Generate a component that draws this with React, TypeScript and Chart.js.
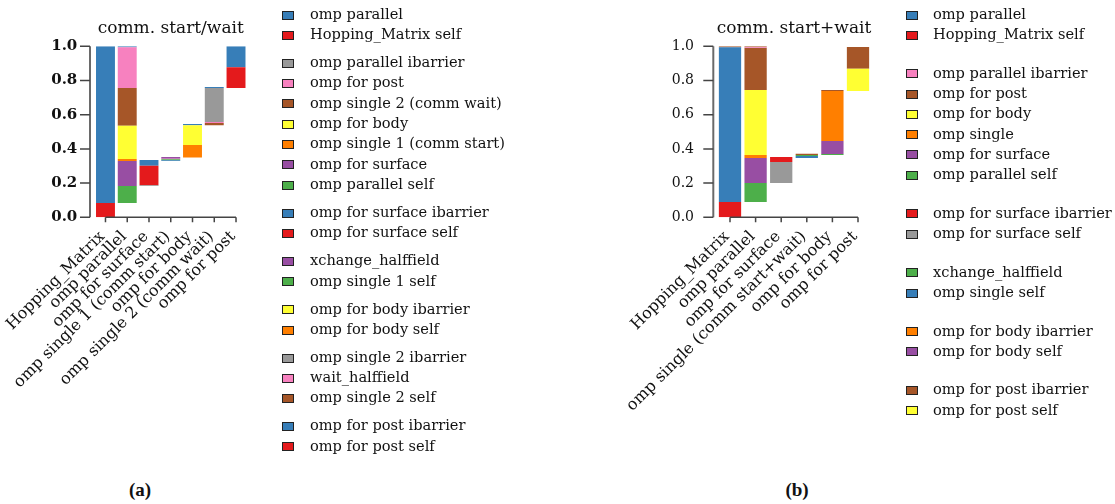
import React, { useEffect, useRef } from "react";
import { Chart, registerables } from "chart.js";

Chart.register(...registerables);

// ---------- palette (style) ----------
const SET1: Record<string, string> = {
  red: "#E41A1C",
  blue: "#377EB8",
  green: "#4DAF4A",
  purple: "#984EA3",
  orange: "#FF7F00",
  yellow: "#FFFF33",
  brown: "#A65628",
  pink: "#F781BF",
  gray: "#999999",
};

// ---------- data: panel (a) ----------
const titleA = "comm. start/wait";
const categoriesA = [
  "Hopping_Matrix",
  "omp parallel",
  "omp for surface",
  "omp single 1 (comm start)",
  "omp for body",
  "omp single 2 (comm wait)",
  "omp for post",
];
const segCategoryA = [0, 0, 1, 1, 1, 1, 1, 1, 1, 2, 2, 2, 3, 3, 3, 3, 4, 4, 4, 5, 5, 5, 5, 6, 6];
const segStartA = [0, 0.084, 0.084, 0.183, 0.329, 0.341, 0.535, 0.756, 0.995, 0.183, 0.188, 0.302, 0.329, 0.334, 0.339, 0.342, 0.349, 0.423, 0.538, 0.539, 0.551, 0.557, 0.756, 0.756, 0.878];
const segEndA = [0.084, 1.0, 0.183, 0.329, 0.341, 0.535, 0.756, 0.995, 1.0, 0.188, 0.302, 0.335, 0.334, 0.339, 0.342, 0.353, 0.423, 0.538, 0.546, 0.551, 0.557, 0.756, 0.762, 0.878, 1.0];
const segColorA = ["red", "blue", "green", "purple", "orange", "yellow", "brown", "pink", "blue", "gray", "red", "blue", "blue", "green", "pink", "purple", "orange", "yellow", "blue", "brown", "pink", "gray", "blue", "red", "blue"];
const legendLabelsA = [
  ["omp parallel", "Hopping_Matrix self"],
  ["omp parallel ibarrier", "omp for post", "omp single 2 (comm wait)", "omp for body", "omp single 1 (comm start)", "omp for surface", "omp parallel self"],
  ["omp for surface ibarrier", "omp for surface self"],
  ["xchange_halffield", "omp single 1 self"],
  ["omp for body ibarrier", "omp for body self"],
  ["omp single 2 ibarrier", "wait_halffield", "omp single 2 self"],
  ["omp for post ibarrier", "omp for post self"],
];
const legendColorsA = [
  ["blue", "red"],
  ["gray", "pink", "brown", "yellow", "orange", "purple", "green"],
  ["blue", "red"],
  ["purple", "green"],
  ["yellow", "orange"],
  ["gray", "pink", "brown"],
  ["blue", "red"],
];

// ---------- data: panel (b) ----------
const titleB = "comm. start+wait";
const categoriesB = [
  "Hopping_Matrix",
  "omp parallel",
  "omp for surface",
  "omp single (comm start+wait)",
  "omp for body",
  "omp for post",
];
const segCategoryB = [0, 0, 0, 1, 1, 1, 1, 1, 1, 1, 2, 2, 3, 3, 3, 4, 4, 4, 4, 5, 5];
const segStartB = [0, 0.089, 0.995, 0.089, 0.2, 0.347, 0.364, 0.744, 0.99, 0.995, 0.2, 0.323, 0.347, 0.359, 0.365, 0.364, 0.37, 0.446, 0.738, 0.738, 0.868];
const segEndB = [0.089, 0.995, 1.0, 0.2, 0.347, 0.364, 0.744, 0.99, 0.995, 1.0, 0.323, 0.352, 0.359, 0.365, 0.371, 0.37, 0.446, 0.738, 0.744, 0.868, 0.996];
const segColorB = ["red", "blue", "brown", "green", "purple", "orange", "yellow", "brown", "pink", "brown", "gray", "red", "blue", "green", "brown", "green", "purple", "orange", "brown", "yellow", "brown"];
const legendLabelsB = [
  ["omp parallel", "Hopping_Matrix self"],
  ["omp parallel ibarrier", "omp for post", "omp for body", "omp single", "omp for surface", "omp parallel self"],
  ["omp for surface ibarrier", "omp for surface self"],
  ["xchange_halffield", "omp single self"],
  ["omp for body ibarrier", "omp for body self"],
  ["omp for post ibarrier", "omp for post self"],
];
const legendColorsB = [
  ["blue", "red"],
  ["pink", "brown", "yellow", "orange", "purple", "green"],
  ["red", "gray"],
  ["green", "blue"],
  ["orange", "purple"],
  ["brown", "yellow"],
];

const yTickValues = [0, 0.2, 0.4, 0.6, 0.8, 1.0];

const SERIF = '"DejaVu Serif", serif';

type Geo = {
  left: number;
  width: number;
  height: number;
  areaLeft: number;
  areaRight: number;
  areaTop: number;
  areaBottom: number;
  yPad: number;
  spineGap: number;
  yFont: { size: number; weight: string };
};

const rAxesPlugin = {
  id: "rAxes",
  afterDatasetsDraw(chart: any, _args: any, opts: any) {
    const { ctx, chartArea, scales } = chart;
    const x = scales.x;
    const y = scales.y;
    const ax = chartArea.left - (opts.spineGap || 4);
    const y0 = y.getPixelForValue(0);
    const y1 = y.getPixelForValue(1);
    ctx.save();
    ctx.strokeStyle = "#6a6a6a";
    ctx.lineWidth = 2;
    ctx.beginPath();
    ctx.moveTo(ax, y0);
    ctx.lineTo(ax, y1);
    ctx.stroke();
    ctx.strokeStyle = "#444";
    ctx.lineWidth = 1.5;
    ctx.beginPath();
    for (const v of yTickValues) {
      const py = y.getPixelForValue(v);
      ctx.moveTo(ax - 10, py);
      ctx.lineTo(ax, py);
    }
    const n = chart.data.labels.length;
    const xa = x.getPixelForValue(0);
    const xb = x.getPixelForValue(n - 1);
    ctx.moveTo(xa, y0);
    ctx.lineTo(xb, y0);
    for (let i = 0; i < n; i++) {
      const px = x.getPixelForValue(i);
      ctx.moveTo(px, y0);
      ctx.lineTo(px, y0 + 5);
    }
    ctx.stroke();
    ctx.restore();
  },
};

function WaterfallChart(props: {
  categories: string[];
  segCategory: number[];
  segStart: number[];
  segEnd: number[];
  segColor: string[];
  geo: Geo;
}) {
  const ref = useRef<HTMLCanvasElement | null>(null);
  const { geo } = props;
  useEffect(() => {
    if (!ref.current) return;
    const datasets = props.segStart.map((lo, i) => ({
      label: `seg${i}`,
      data: props.categories.map((_, c) =>
        c === props.segCategory[i] ? [lo, props.segEnd[i]] : null
      ),
      backgroundColor: SET1[props.segColor[i]],
      borderWidth: 0,
      grouped: false,
      barPercentage: 0.87,
      categoryPercentage: 1,
    }));
    const chart = new Chart(ref.current, {
      type: "bar",
      data: { labels: props.categories, datasets: datasets as any },
      options: {
        responsive: false,
        animation: false,
        devicePixelRatio: 1,
        layout: {
          padding: {
            left: 0,
            right: geo.width - geo.areaRight,
            top: geo.areaTop,
            bottom: 0,
          },
        },
        plugins: {
          legend: { display: false },
          tooltip: { enabled: false },
          title: { display: false },
          rAxes: { spineGap: geo.spineGap },
        } as any,
        scales: {
          x: {
            type: "category",
            offset: true,
            grid: { display: false, drawTicks: false },
            border: { display: false },
            ticks: {
              autoSkip: false,
              minRotation: 45,
              maxRotation: 45,
              padding: 10,
              labelOffset: -3,
              color: "#111",
              font: { family: SERIF, size: 16 },
            },
            afterFit: (s: any) => {
              s.height = geo.height - geo.areaBottom;
              s.paddingLeft = 0;
              s.paddingRight = 0;
            },
          },
          y: {
            min: 0,
            max: 1,
            grid: { display: false, drawTicks: false },
            border: { display: false },
            afterBuildTicks: (s: any) => {
              s.ticks = yTickValues.map((v) => ({ value: v }));
            },
            ticks: {
              padding: geo.yPad,
              color: "#111",
              font: { family: SERIF, size: geo.yFont.size, weight: geo.yFont.weight as any },
              callback: (v: any) => Number(v).toFixed(1),
            },
            afterFit: (s: any) => {
              s.width = geo.areaLeft;
              s.paddingTop = 0;
              s.paddingBottom = 0;
            },
          },
        },
      },
      plugins: [rAxesPlugin],
    });
    return () => chart.destroy();
  }, []);
  return (
    <canvas
      ref={ref}
      width={geo.width}
      height={geo.height}
      style={{
        position: "absolute",
        left: geo.left,
        top: 0,
        width: geo.width,
        height: geo.height,
      }}
    />
  );
}

function Legend(props: {
  labels: string[][];
  colors: string[][];
  x: number;
  textX: number;
  firstY: number;
  pitch: number;
  gap: number;
}) {
  const items: React.ReactNode[] = [];
  let row = 0;
  props.labels.forEach((group, g) => {
    group.forEach((lab, k) => {
      const yc = props.firstY + row * props.pitch + g * props.gap;
      items.push(
        <React.Fragment key={`${g}-${k}`}>
          <div
            style={{
              position: "absolute",
              left: props.x,
              top: yc - 4.5,
              width: 12,
              height: 9,
              boxSizing: "border-box",
              border: "1px solid #222",
              background: SET1[props.colors[g][k]],
            }}
          />
          <div
            style={{
              position: "absolute",
              left: props.textX,
              top: yc - 11.2,
              height: 20,
              lineHeight: "20px",
              fontFamily: SERIF,
              fontSize: 14.6,
              color: "#111",
              whiteSpace: "nowrap",
            }}
          >
            {lab}
          </div>
        </React.Fragment>
      );
      row++;
    });
  });
  return <>{items}</>;
}

const geoA: Geo = {
  left: 0,
  width: 270,
  height: 460,
  areaLeft: 94.6,
  areaRight: 246.9,
  areaTop: 46.3,
  areaBottom: 217.3,
  yPad: 17.3,
  spineGap: 4.6,
  yFont: { size: 15, weight: "bold" },
};

const geoB: Geo = {
  left: 580,
  width: 320,
  height: 460,
  areaLeft: 137.2,
  areaRight: 290.8,
  areaTop: 46.3,
  areaBottom: 217.3,
  yPad: 23.2,
  spineGap: 3.9,
  yFont: { size: 14, weight: "normal" },
};

function Title(props: { text: string; center: number }) {
  return (
    <div
      style={{
        position: "absolute",
        left: props.center - 150,
        width: 300,
        top: 16.8,
        lineHeight: "20px",
        textAlign: "center",
        fontFamily: SERIF,
        fontSize: 17,
        color: "#111",
        whiteSpace: "nowrap",
      }}
    >
      {props.text}
    </div>
  );
}

function Caption(props: { text: string; center: number }) {
  return (
    <div
      style={{
        position: "absolute",
        left: props.center - 30,
        width: 60,
        top: 479,
        lineHeight: "22px",
        textAlign: "center",
        fontFamily: '"Liberation Serif", serif',
        fontWeight: "bold",
        fontSize: 19,
        color: "#111",
      }}
    >
      {props.text}
    </div>
  );
}

export default function App() {
  return (
    <div
      style={{
        position: "absolute",
        left: 0,
        top: 0,
        width: 1115,
        height: 504,
        background: "#fff",
        overflow: "hidden",
      }}
    >
      <WaterfallChart
        categories={categoriesA}
        segCategory={segCategoryA}
        segStart={segStartA}
        segEnd={segEndA}
        segColor={segColorA}
        geo={geoA}
      />
      <Title text={titleA} center={geoA.left + (geoA.areaLeft + geoA.areaRight) / 2} />
      <Legend
        labels={legendLabelsA}
        colors={legendColorsA}
        x={282}
        textX={310}
        firstY={15}
        pitch={20.3}
        gap={7.7}
      />
      <WaterfallChart
        categories={categoriesB}
        segCategory={segCategoryB}
        segStart={segStartB}
        segEnd={segEndB}
        segColor={segColorB}
        geo={geoB}
      />
      <Title text={titleB} center={geoB.left + (geoB.areaLeft + geoB.areaRight) / 2} />
      <Legend
        labels={legendLabelsB}
        colors={legendColorsB}
        x={906}
        textX={933}
        firstY={15}
        pitch={20.26}
        gap={18.4}
      />
      <Caption text="(a)" center={140} />
      <Caption text="(b)" center={797} />
    </div>
  );
}
